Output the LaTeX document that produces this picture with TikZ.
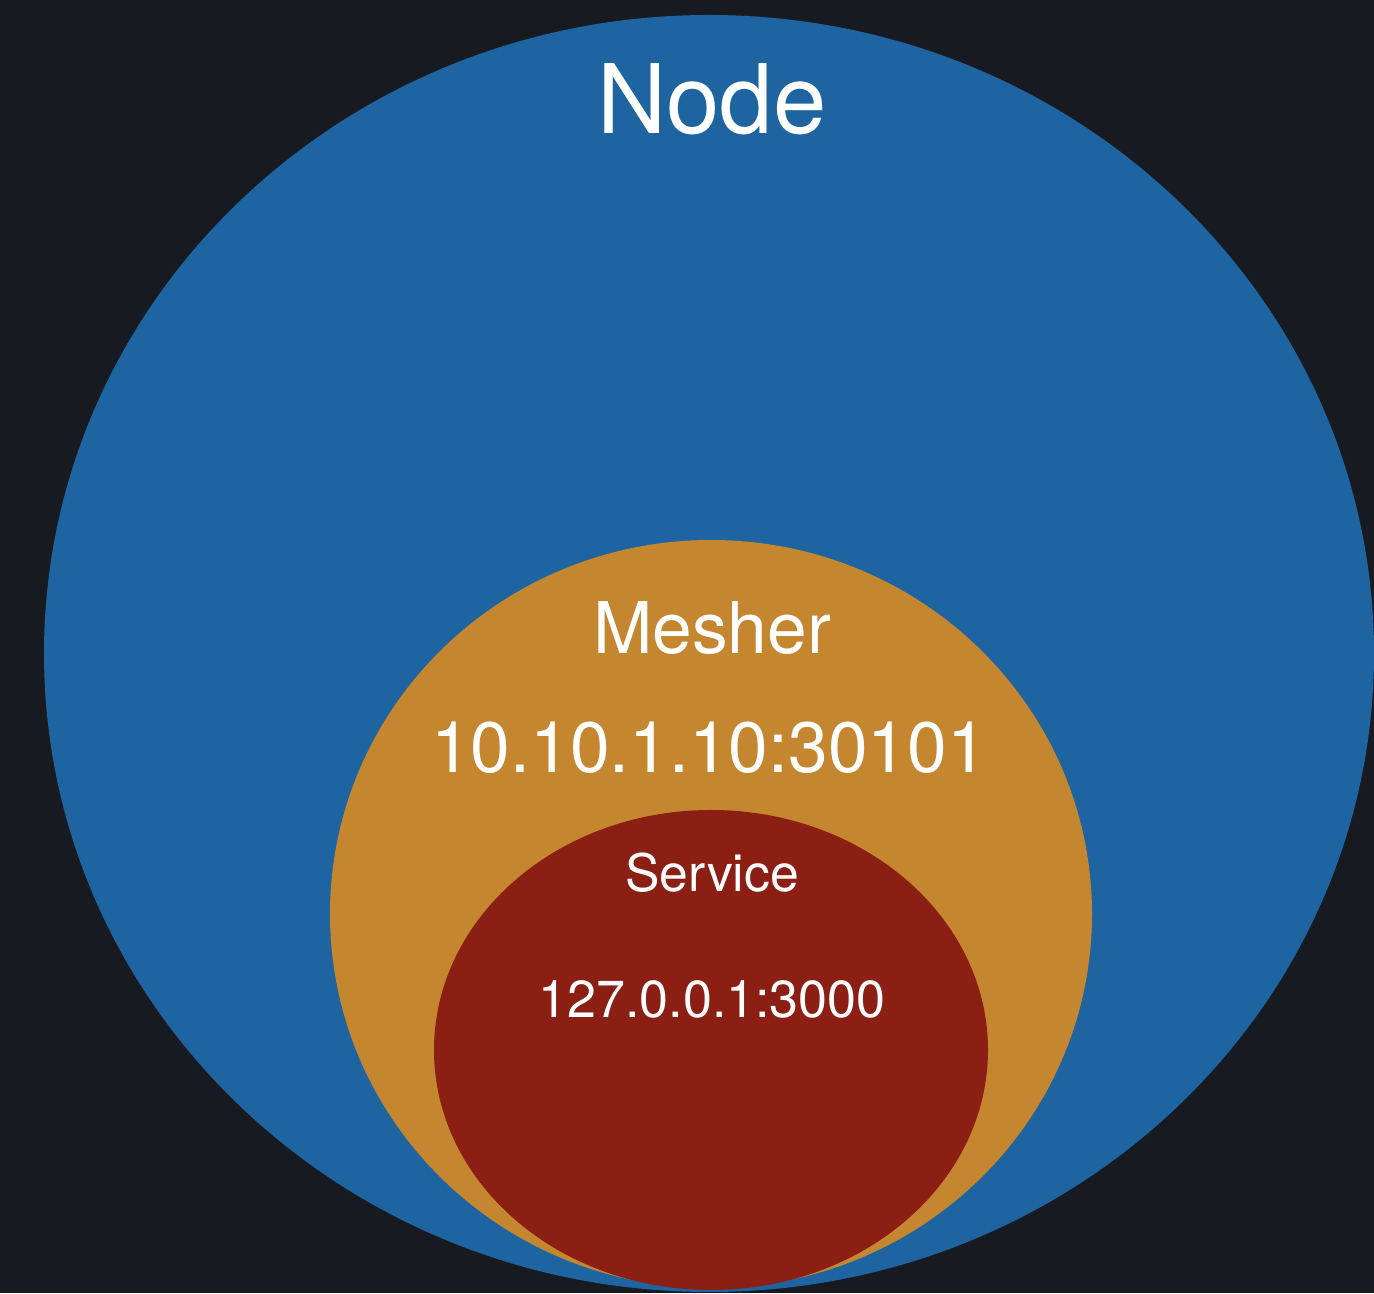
\documentclass[tikz,border=0pt]{standalone}
\usepackage{fontspec}
\setmainfont{TeX Gyre Heros}
\usepackage{tikz}
\usetikzlibrary{shapes.geometric}

\definecolor{bgdark}{HTML}{181A21}
\definecolor{nodeblue}{HTML}{1D64A0}
\definecolor{meshorange}{HTML}{C4862F}
\definecolor{servred}{HTML}{8B1F13}

\begin{document}
\begin{tikzpicture}[font=\normalfont]
		\tikzstyle{zone} = [ellipse, inner sep=0pt, draw=none]
		
		\tikzstyle{caption} = [anchor=base, text=white, inner sep=0pt]
		
		% Background
		\fill [bgdark] (0,0) rectangle (13.74,12.93);
		\useasboundingbox (0,0) rectangle (13.74,12.93);
		
		% Nested zones
		\node (node) [zone, fill=nodeblue, minimum width=13.30cm, minimum height=12.77cm] at (7.09,6.395) {};
		\node (mesher) [zone, fill=meshorange, minimum width=7.62cm, minimum height=7.48cm] at (7.11,3.79) {};
		\node (service) [zone, fill=servred, minimum width=5.54cm, minimum height=4.80cm] at (7.11,2.43) {};
		
		% Labels
		\node (nodetext) [caption, font=\fontsize{27.3}{32}\selectfont] at (7.12,11.59) {Node};
		\node (meshertext) [caption, font=\fontsize{20.3}{24}\selectfont] at (7.12,6.39) {Mesher};
		\node (mesherip) [caption, font=\fontsize{20.3}{24}\selectfont] at (7.09,5.20) {10.10.1.10:30101};
		\node (servicetext) [caption, font=\fontsize{14.7}{17}\selectfont] at (7.12,4.01) {Service};
		\node (serviceip) [caption, font=\fontsize{14.8}{17}\selectfont] at (7.12,2.75) {127.0.0.1:3000};
		
		\end{tikzpicture}
\end{document}
